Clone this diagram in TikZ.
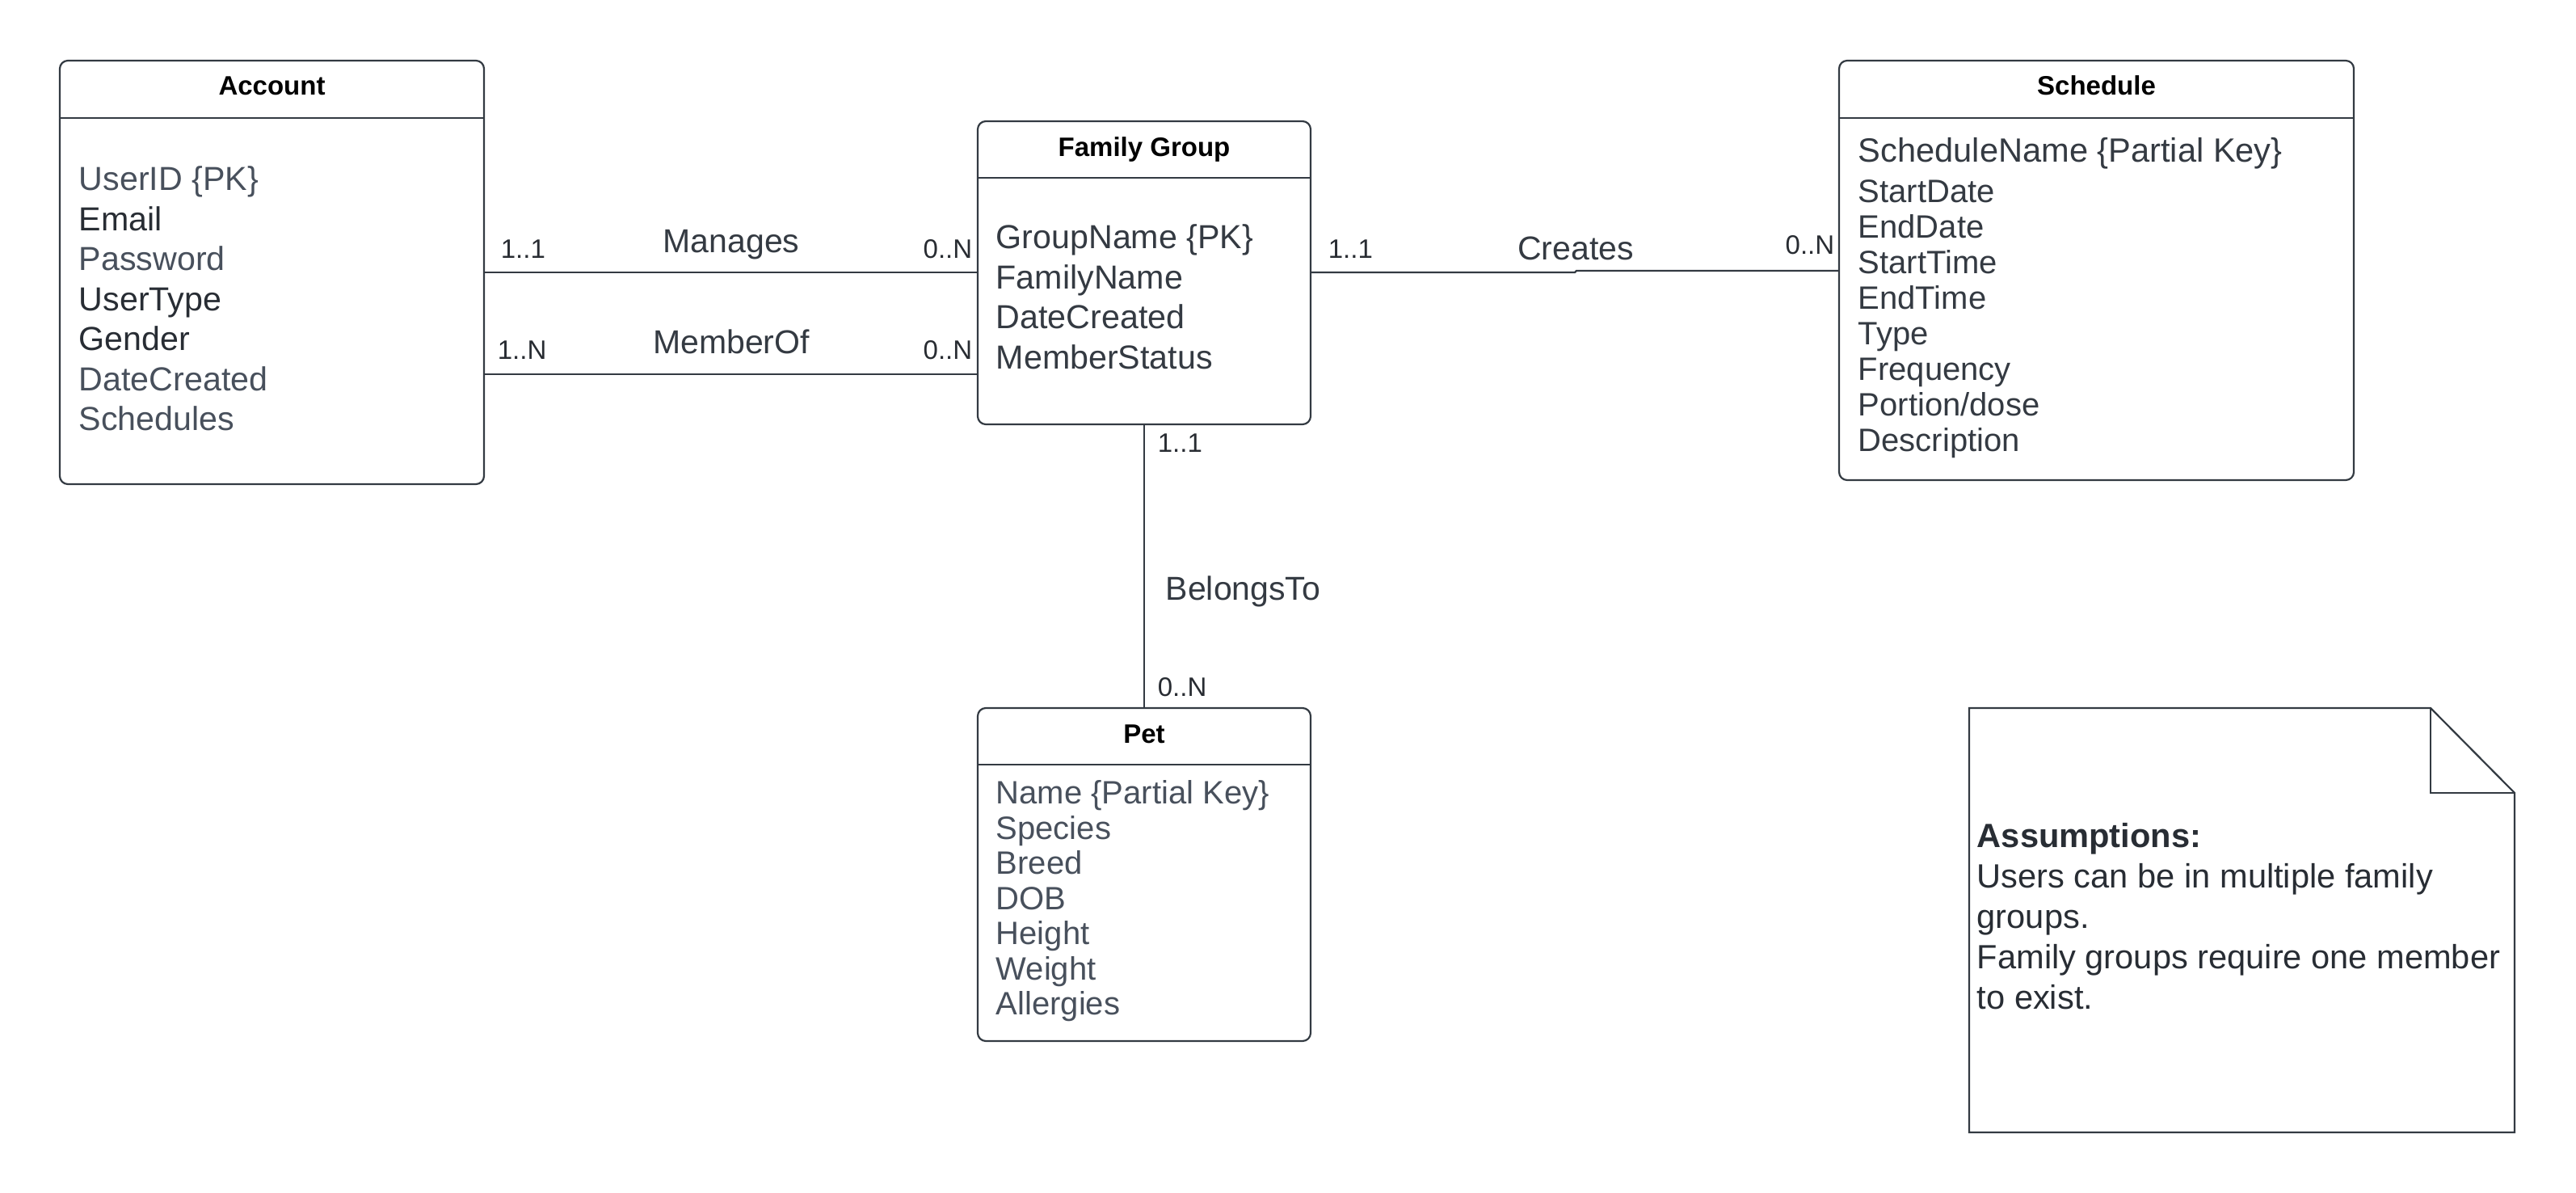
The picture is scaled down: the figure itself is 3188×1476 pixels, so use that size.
\documentclass[tikz,border=0pt]{standalone}
\usepackage{fontspec}
\setmainfont{Liberation Sans}
\usetikzlibrary{calc}
\definecolor{edgec}{RGB}{51,58,66}
\definecolor{attrc}{RGB}{72,80,92}
\definecolor{attrdark}{RGB}{40,45,52}
\definecolor{relc}{RGB}{52,58,66}
\definecolor{cardc}{RGB}{40,44,50}
\begin{document}
\begin{tikzpicture}[x=0.25pt,y=-0.25pt,
  entity/.style={draw=edgec, line width=0.55pt, rounded corners=2.5pt, inner sep=0pt},
  divider/.style={draw=edgec, line width=0.5pt},
  title/.style={font=\bfseries\fontsize{8.25pt}{10pt}\selectfont, anchor=base, text=black, inner sep=0pt},
  attrs/.style={anchor=north west, inner sep=0pt, align=left, text=attrc},
  card/.style={font=\fontsize{8.25pt}{10pt}\selectfont, text=cardc, inner sep=0pt},
  rel/.style={font=\fontsize{10.25pt}{12pt}\selectfont, text=relc, inner sep=0pt},
  link/.style={draw=edgec, line width=0.55pt},
  notebox/.style={draw=edgec, line width=0.55pt}]
\useasboundingbox (0,0) rectangle (3188,1476);

% ---- entities ----
\node[entity, minimum width=131.25pt, minimum height=131pt] (acc) at (336.5,337) {};
\node[entity, minimum width=103pt, minimum height=93.75pt] (fam) at (1416,337.5) {};
\node[entity, minimum width=159.25pt, minimum height=129.75pt] (sch) at (2594.5,334.5) {};
\node[entity, minimum width=103pt, minimum height=103pt] (pet) at (1416,1082) {};

% header dividers
\draw[divider] (74,146) -- (599,146);
\draw[divider] (1210,220) -- (1622,220);
\draw[divider] (2276,146) -- (2913,146);
\draw[divider] (1210,946) -- (1622,946);

% titles
\node[title] (acc-t) at (336.5,118) {Account};
\node[title] (fam-t) at (1416,194) {Family Group};
\node[title] (sch-t) at (2594.5,118) {Schedule};
\node[title] (pet-t) at (1416,919) {Pet};

% attributes
\node[attrs, font=\fontsize{10.3pt}{12.375pt}\selectfont] (acc-a) at (97,205) {%
  UserID \{PK\}\\
  {\color{attrdark}Email}\\
  Password\\
  {\color{attrdark}UserType}\\
  {\color{attrdark}Gender}\\
  DateCreated\\
  Schedules};
\node[attrs, text=relc, font=\fontsize{10.3pt}{12.375pt}\selectfont] (fam-a) at (1232,277) {%
  GroupName \{PK\}\\
  FamilyName\\
  DateCreated\\
  MemberStatus};
\node[attrs, text=relc, font=\fontsize{10pt}{11pt}\selectfont] (sch-a) at (2299,170) {%
  {\fontsize{10.4pt}{11pt}\selectfont ScheduleName \{Partial Key\}}\\[1.5pt]
  StartDate\\
  EndDate\\
  StartTime\\
  EndTime\\
  Type\\
  Frequency\\
  Portion/dose\\
  Description};
\node[attrs, font=\fontsize{10pt}{10.875pt}\selectfont] (pet-a) at (1232,965) {%
  Name \{Partial Key\}\\
  Species\\
  Breed\\
  DOB\\
  Height\\
  Weight\\
  Allergies};

% ---- relationships ----
\coordinate (mo) at (0,463);
\coordinate (cr1) at (1949,337);
\coordinate (cr2) at (1951,335);
\draw[link] (acc.east) -- (acc.east -| fam.west);
\draw[link] (acc.east |- mo) -- (fam.west |- mo);
\draw[link] (fam.east |- cr1) -- (cr1) -- (cr2) -- (sch.west |- cr2);
\draw[link] (fam.south) -- (pet.north);

% relationship names
\node[rel, anchor=base] (r-man) at (905,312) {Manages};
\node[rel, anchor=base] (r-mem) at (905,437) {MemberOf};
\node[rel, anchor=base] (r-cre) at (1950,321) {Creates};
\node[rel, anchor=base west] (r-bel) at (1442,742) {BelongsTo};

% cardinalities
\node[card, anchor=base west] (c1) at (619,319) {1..1};
\node[card, anchor=base east] (c2) at (1204,319) {0..N};
\node[card, anchor=base west] (c3) at (615,444) {1..N};
\node[card, anchor=base east] (c4) at (1204,444) {0..N};
\node[card, anchor=base west] (c5) at (1643,319) {1..1};
\node[card, anchor=base east] (c6) at (2271,314) {0..N};
\node[card, anchor=base west] (c7) at (1432,559) {1..1};
\node[card, anchor=base west] (c8) at (1432,861) {0..N};

% ---- note ----
\draw[notebox] (2437,876) -- (3008,876) -- (3112,981) -- (3112,1401) -- (2437,1401) -- cycle;
\draw[notebox] (3008,876) -- (3008,981) -- (3112,981);
\node[attrs, text=attrdark, font=\fontsize{10.4pt}{12.5pt}\selectfont] (note) at (2446,1018) {%
  \textbf{Assumptions:}\\
  Users can be in multiple family\\
  groups.\\
  Family groups require one member\\
  to exist.};
\end{tikzpicture}
\end{document}
